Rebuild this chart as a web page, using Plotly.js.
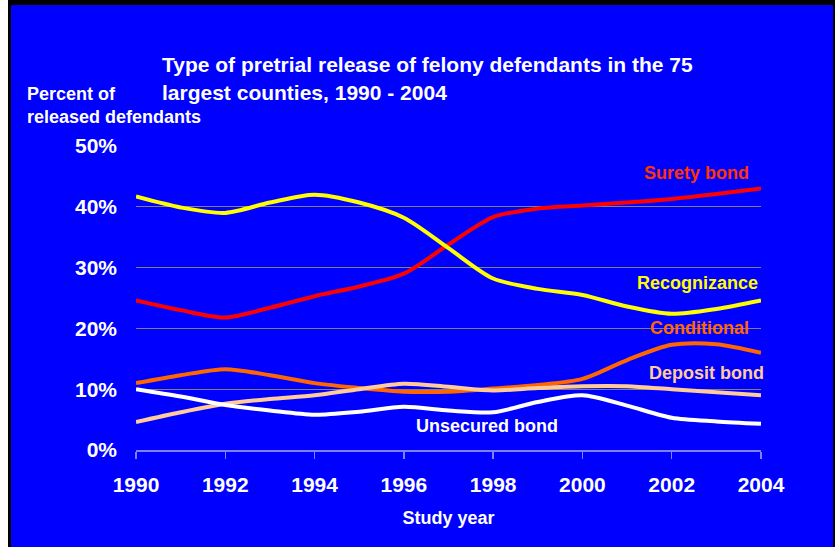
<!DOCTYPE html>
<html>
<head>
<meta charset="utf-8">
<script src="https://cdn.plot.ly/plotly-3.0.1.min.js"></script>
<style>
  html, body { margin: 0; padding: 0; width: 835px; height: 547px; background: #000; overflow: hidden; }
  #edge { position: absolute; left: 0; top: 0; width: 8px; height: 547px; background: #fff; }
  #chart { position: absolute; left: 11px; top: 5px; width: 822px; height: 542px; }
</style>
</head>
<body>
<div id="edge"></div>
<div id="chart"></div>
<script>
// Study years (75 largest counties)
const years = [1990, 1991, 1992, 1993, 1994, 1995, 1996, 1997, 1998, 1999, 2000, 2001, 2002, 2003, 2004];

// Percent of released defendants by type of release
const suretyBond    = [24.6, 23.0, 21.8, 23.4, 25.3, 26.9, 29.0, 33.8, 38.3, 39.7, 40.2, 40.7, 41.3, 42.1, 43.0];
const recognizance  = [41.7, 39.9, 39.0, 40.7, 42.0, 40.7, 38.2, 33.2, 28.2, 26.5, 25.5, 23.6, 22.4, 23.2, 24.6];
const conditional   = [11.0, 12.3, 13.3, 12.3, 11.0, 10.2, 9.6, 9.6, 10.1, 10.7, 11.7, 14.8, 17.3, 17.4, 16.0];
const depositBond   = [4.6, 6.2, 7.6, 8.4, 9.0, 10.0, 10.9, 10.4, 9.8, 10.2, 10.5, 10.5, 10.0, 9.5, 9.0];
const unsecuredBond = [10.0, 8.8, 7.4, 6.5, 5.8, 6.3, 7.1, 6.5, 6.2, 7.9, 9.0, 7.3, 5.3, 4.7, 4.3];

const seriesNames = ['Surety bond', 'Recognizance', 'Conditional', 'Deposit bond', 'Unsecured bond'];
const xTickVals = [1990, 1992, 1994, 1996, 1998, 2000, 2002, 2004];
const yTickVals = [0, 10, 20, 30, 40, 50];
const yTickText = ['0%', '10%', '20%', '30%', '40%', '50%'];

const FONT = 'Liberation Sans, Arial, Helvetica, sans-serif';
const colors = ['#FF0000', '#FFFF00', '#FF6600', '#FFCC99', '#FFFFFF'];
const labelColors = ['#FF3300', '#FFFF00', '#FF6600', '#FFCC99', '#FFFFFF'];
const values = [suretyBond, recognizance, conditional, depositBond, unsecuredBond];

const traces = values.map((v, i) => ({
  type: 'scatter',
  mode: 'lines',
  name: seriesNames[i],
  x: years,
  y: v,
  line: { color: colors[i], width: 4, shape: 'spline', smoothing: 0.8 },
  hoverinfo: 'skip'
}));

// Series labels beside their lines (x in paper units so they may sit past the axis end)
const labelPos = [
  { x: 0.984, y: 45.5, xanchor: 'right' },
  { x: 0.998, y: 27.4, xanchor: 'right' },
  { x: 0.984, y: 20.0, xanchor: 'right' },
  { x: 1.008, y: 12.7, xanchor: 'right' },
  { x: 0.445, y: 4.0,  xanchor: 'left' }
];
const annotations = labelPos.map((p, i) => ({
  xref: 'paper', yref: 'y', x: p.x, y: p.y,
  xanchor: p.xanchor, yanchor: 'middle',
  text: seriesNames[i], showarrow: false,
  font: { family: FONT, size: 18, weight: 'bold', color: labelColors[i] }
}));

annotations.push({
  xref: 'paper', yref: 'paper', x: -0.1776, y: 1.132,
  xanchor: 'left', yanchor: 'middle', align: 'left',
  text: 'Percent of<br>released defendants', showarrow: false,
  font: { family: FONT, size: 18, weight: 'bold', color: '#FFFFFF' }
});

const layout = {
  width: 822,
  height: 542,
  paper_bgcolor: '#0000FF',
  plot_bgcolor: '#0000FF',
  showlegend: false,
  margin: { l: 125, r: 72, t: 141, b: 97, pad: 0 },
  title: {
    text: 'Type of pretrial release of felony defendants in the 75<br>largest counties, 1990 - 2004',
    xref: 'container', yref: 'container',
    x: 0.1837, xanchor: 'left',
    y: 0.876, yanchor: 'middle',
    font: { family: FONT, size: 21, weight: 'bold', color: '#FFFFFF' }
  },
  xaxis: {
    range: [1990, 2004],
    tickvals: xTickVals,
    ticks: 'outside', ticklen: 7, tickwidth: 1.5, tickcolor: '#8080FF',
    showline: true, linecolor: '#8080FF', linewidth: 2,
    showgrid: false, zeroline: false,
    ticklabelstandoff: 8,
    tickfont: { family: FONT, size: 21, weight: 'bold', color: '#FFFFFF' },
    title: {
      text: 'Study year', standoff: 16,
      font: { family: FONT, size: 18, weight: 'bold', color: '#FFFFFF' }
    },
    fixedrange: true
  },
  yaxis: {
    range: [0, 50],
    tickmode: 'array',
    tickvals: yTickVals,
    ticktext: yTickText,
    ticks: '',
    showline: false,
    showgrid: true, gridcolor: '#808080', gridwidth: 1,
    zeroline: false,
    ticklabelstandoff: 18,
    tickfont: { family: FONT, size: 21, weight: 'bold', color: '#FFFFFF' },
    fixedrange: true
  },
  annotations: annotations
};

Plotly.newPlot('chart', traces, layout, { displayModeBar: false, staticPlot: true });
</script>
</body>
</html>
